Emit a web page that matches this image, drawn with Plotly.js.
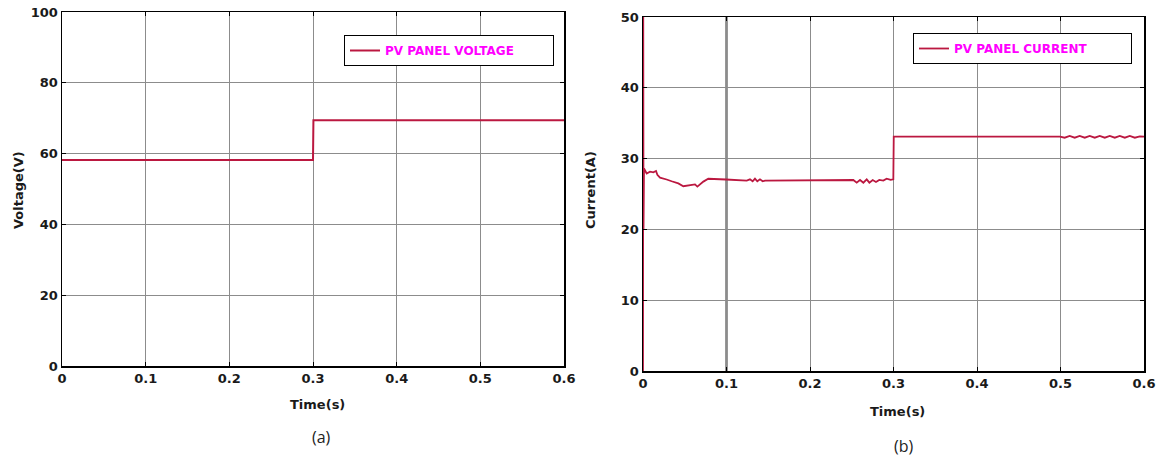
<!DOCTYPE html>
<html><head><meta charset="utf-8">
<script src="https://cdn.plot.ly/plotly-3.0.1.min.js"></script>
<style>html,body{margin:0;padding:0;background:#fff}#c{width:1164px;height:459px}</style>
</head><body><div id="c"></div>
<script>
// Panel (a): PV panel voltage
const vTime = [0, 0.3, 0.3005, 0.6];
const vVolt = [58.2, 58.2, 69.4, 69.4];

// Panel (b): PV panel current
const iTime = [0, 0.0003, 0.0006, 0.0012, 0.0044, 0.0084, 0.0124, 0.0156, 0.0172, 0.0204, 0.0243, 0.0283,
  0.0343, 0.0423, 0.0483, 0.0563, 0.0623, 0.0651, 0.0683, 0.0723, 0.0782, 0.0882, 0.0994,
  0.1242, 0.1281, 0.1313, 0.1341, 0.1369, 0.1401, 0.1433, 0.1461,
  0.2519, 0.2559, 0.2599, 0.2639, 0.2679, 0.2711, 0.2751, 0.2790, 0.2830, 0.2878, 0.2918, 0.2966, 0.2998,
  0.3003, 0.4994, 0.505, 0.511, 0.517, 0.523, 0.529, 0.535, 0.541, 0.547, 0.553, 0.559, 0.565, 0.571,
  0.577, 0.583, 0.589, 0.595, 0.6];
const iCurr = [0, 50, 20, 28.6, 27.9, 28.15, 28.06, 28.25, 27.7, 27.3, 27.2, 27.05,
  26.8, 26.5, 26.1, 26.3, 26.35, 26.04, 26.4, 26.75, 27.15, 27.15, 27.05,
  26.9, 27.07, 26.8, 27.17, 26.8, 27.07, 26.8, 26.9,
  26.98, 26.6, 26.98, 26.6, 27.07, 26.6, 26.98, 26.7, 26.98, 26.9, 27.17, 27.0, 27.07,
  33.1, 33.1, 32.95, 33.2, 32.95, 33.2, 32.95, 33.2, 32.95, 33.2, 32.95, 33.2, 32.95, 33.2,
  32.95, 33.2, 32.95, 33.15, 33.1];

const xTicks = [0, 0.1, 0.2, 0.3, 0.4, 0.5, 0.6];
const vTicks = [0, 20, 40, 60, 80, 100];
const iTicks = [0, 10, 20, 30, 40, 50];

const lineCol = '#bb1840';
const tf = {family: 'DejaVu Sans, Verdana, sans-serif', size: 13, color: '#1a1a1a', weight: 'bold'};
const titleFont = {family: 'DejaVu Sans, Verdana, sans-serif', size: 13, color: '#1a1a1a', weight: 'bold'};
const capFont = {family: 'Open Sans, Liberation Sans, sans-serif', size: 16, color: '#222'};

const traces = [
  {x: vTime, y: vVolt, type: 'scatter', mode: 'lines', name: 'PV PANEL VOLTAGE',
   line: {color: lineCol, width: 2}, xaxis: 'x', yaxis: 'y', legend: 'legend'},
  {x: iTime, y: iCurr, type: 'scatter', mode: 'lines', name: 'PV PANEL CURRENT',
   line: {color: lineCol, width: 1.8}, xaxis: 'x2', yaxis: 'y2', legend: 'legend2'}
];

function ax(extra) {
  return Object.assign({
    showline: true, linecolor: '#000', linewidth: 1.5, mirror: 'ticks',
    ticks: 'inside', ticklen: 4, tickcolor: '#000',
    showgrid: true, gridcolor: '#8c8c8c', gridwidth: 1,
    zeroline: false, tickfont: tf, fixedrange: true
  }, extra);
}

const W = 1164, H = 459;
const px = v => v / W, py = v => 1 - v / H;

const legendCommon = {
  bordercolor: '#000', borderwidth: 1, bgcolor: '#fff',
  font: {family: 'DejaVu Sans, Verdana, sans-serif', size: 12, color: '#ff00ff', weight: 'bold'},
  xanchor: 'left', yanchor: 'top', tracegroupgap: 0,
  orientation: 'h', entrywidthmode: 'pixels'
};

function ann(text, x, y, font, angle) {
  return {text: text, x: px(x), y: py(y), xref: 'paper', yref: 'paper', showarrow: false,
    xanchor: 'center', yanchor: 'middle', textangle: angle || 0, font: font};
}

const layout = {
  width: W, height: H,
  margin: {l: 0, r: 0, t: 0, b: 0},
  paper_bgcolor: '#fff', plot_bgcolor: '#fff',
  showlegend: true,
  xaxis: ax({domain: [px(62), px(564)], range: [0, 0.6], tickvals: xTicks, ticktext: xTicks.map(String), anchor: 'y'}),
  yaxis: ax({domain: [py(366), py(12)], range: [0, 100], tickvals: vTicks, anchor: 'x'}),
  xaxis2: ax({domain: [px(643), px(1144)], range: [0, 0.6], tickvals: xTicks, ticktext: xTicks.map(String), anchor: 'y2'}),
  yaxis2: ax({domain: [py(371), py(17)], range: [0, 50], tickvals: iTicks, anchor: 'x2'}),
  legend: Object.assign({x: px(344), y: py(35), entrywidth: 163}, legendCommon),
  legend2: Object.assign({x: px(913), y: py(33), entrywidth: 172}, legendCommon),
  shapes: [
    {type: 'line', xref: 'x2', yref: 'y2', x0: 0.1, x1: 0.1, y0: 0, y1: 50,
     line: {color: '#333', width: 2}, layer: 'below'}
  ],
  annotations: [
    ann('Voltage(V)', 18, 190, titleFont, -90),
    ann('Time(s)', 318, 404, titleFont),
    ann('(a)', 321, 437, capFont),
    ann('Current(A)', 590, 190, titleFont, -90),
    ann('Time(s)', 897, 411, titleFont),
    ann('(b)', 904, 446, capFont)
  ]
};

Plotly.newPlot('c', traces, layout, {displayModeBar: false, staticPlot: true});
</script></body></html>
